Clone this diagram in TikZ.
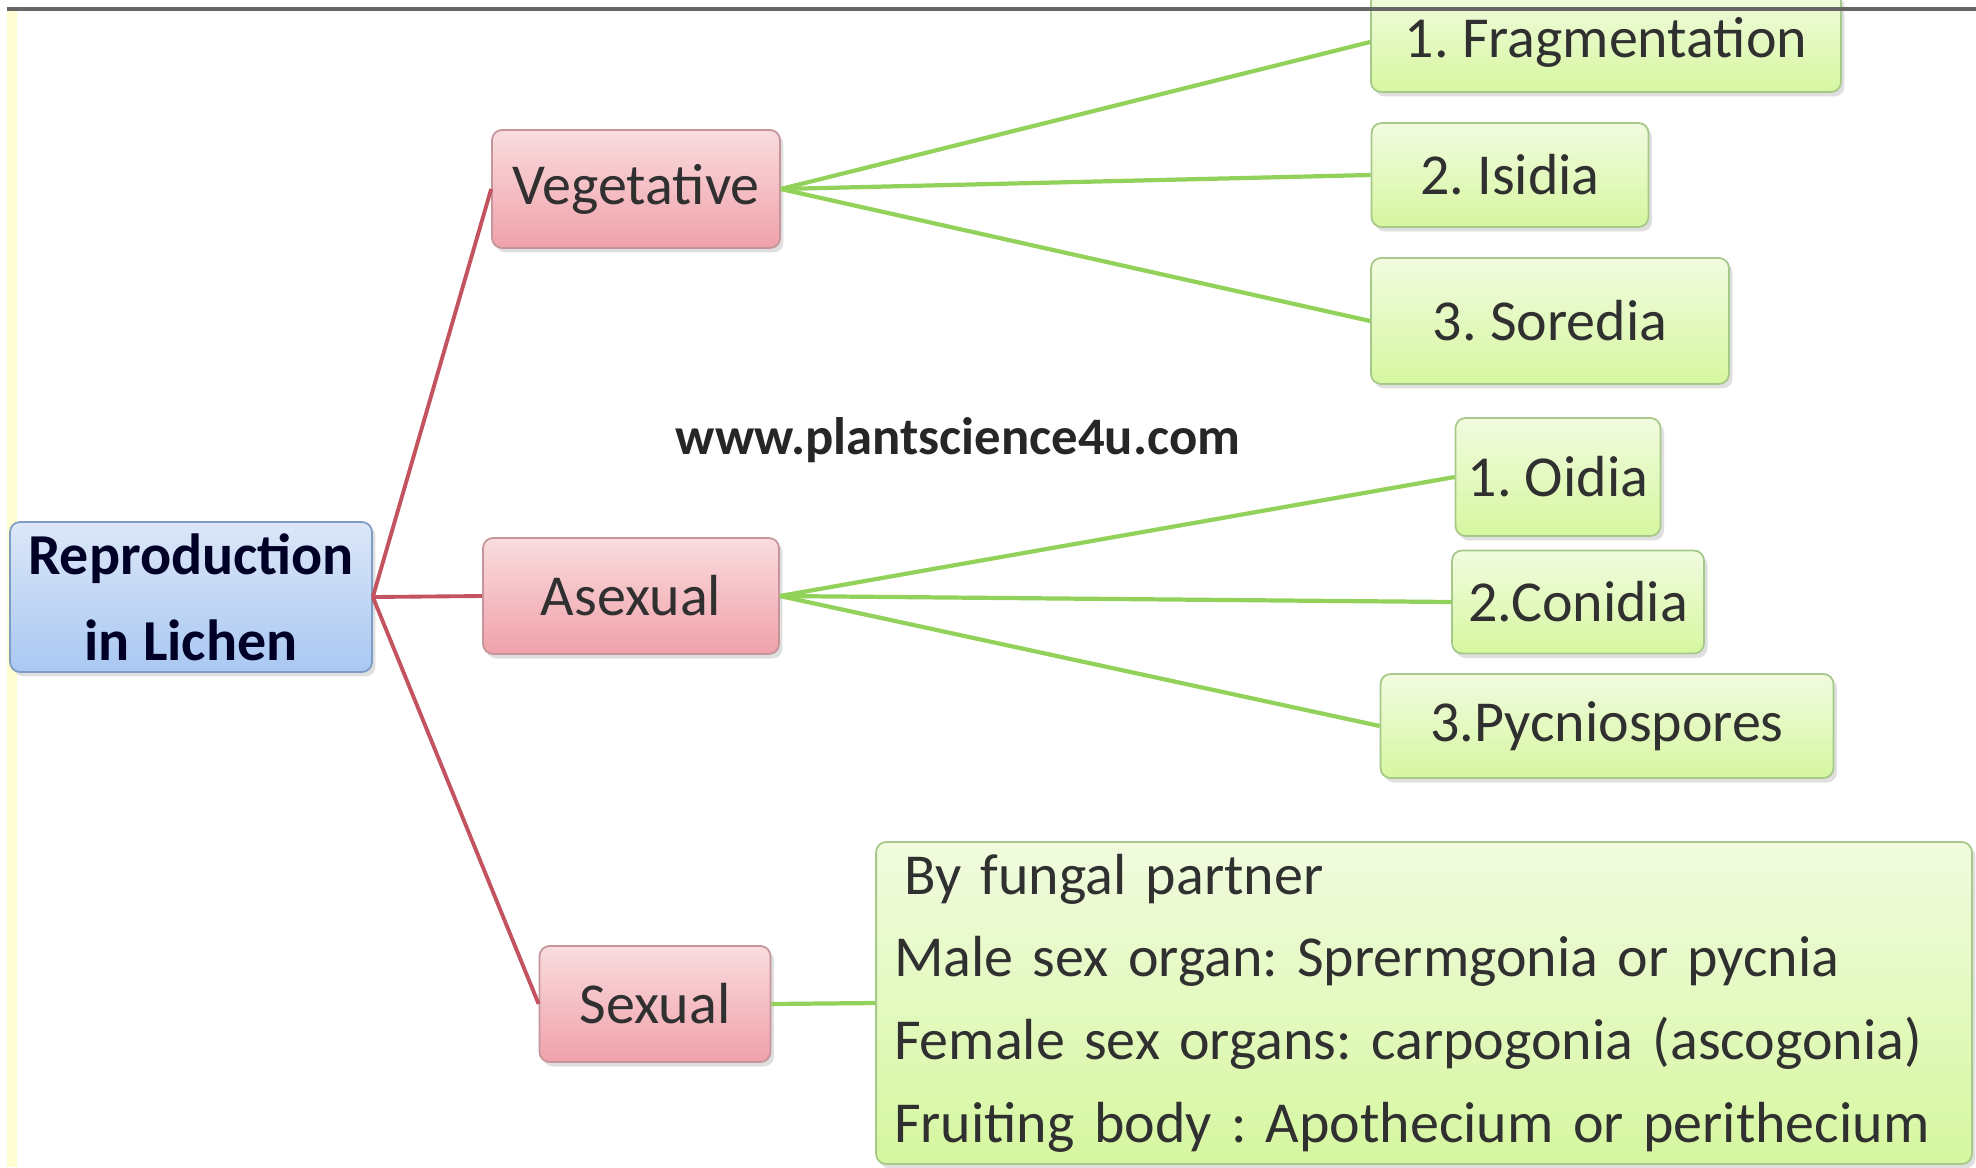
\documentclass[tikz,border=0pt]{standalone}
\usepackage{fontspec}
\setmainfont{Carlito}
\usepackage{xcolor}
\usepackage{tikz}
\usetikzlibrary{shadows}
\definecolor{rootblue}{HTML}{A9C8F2}
\definecolor{rootlight}{HTML}{DCE7F8}
\definecolor{rootline}{HTML}{7F9CC4}
\definecolor{pinkdark}{HTML}{F0A1AA}
\definecolor{pinklight}{HTML}{F9DCDE}
\definecolor{pinkline}{HTML}{C4959A}
\definecolor{leafdark}{HTML}{D6F7A0}
\definecolor{leaflight}{HTML}{F1FBDF}
\definecolor{leafline}{HTML}{A6C98A}
\definecolor{redlink}{HTML}{C2535F}
\definecolor{greenlink}{HTML}{92D15A}
\definecolor{inktext}{HTML}{303030}
\frenchspacing

\begin{document}
\begin{tikzpicture}[x=0.02cm, y=-0.02cm,
  font=\fontsize{33}{48}\selectfont, text=inktext,
  box/.style={draw, rounded corners=0.2cm, line width=1pt, inner sep=2pt,
    drop shadow={shadow xshift=0.7mm, shadow yshift=-0.9mm, opacity=0.25}},
  rootbox/.style={box, draw=rootline, top color=rootlight, bottom color=rootblue,
    align=center, font=\fontsize{33}{49}\selectfont\bfseries, text=black!85!blue},
  kindbox/.style={box, draw=pinkline, top color=pinklight, bottom color=pinkdark},
  leafbox/.style={box, draw=leafline, top color=leaflight, bottom color=leafdark},
  redarm/.style={redlink, line width=2.2pt},
  greenarm/.style={greenlink, line width=2.4pt}]
  \useasboundingbox (0,0) rectangle (1976,1167);
  \fill[white] (0,0) rectangle (1976,1167);
  % left strip of the slide
  \fill[yellow!18] (7,9) rectangle (17,1167);
  % Root
  \node[rootbox, minimum width=7.24cm, minimum height=3cm] (root) at (191,597)
    {Reproduction\\in Lichen};
  % Kinds of reproduction
  \node[kindbox, minimum width=5.76cm, minimum height=2.36cm] (veg) at (636,189) {Vegetative};
  \node[kindbox, minimum width=5.92cm, minimum height=2.32cm] (asex) at (631,596) {Asexual};
  \node[kindbox, minimum width=4.62cm, minimum height=2.32cm] (sex) at (655,1004) {Sexual};
  % Vegetative ways
  \node[leafbox, minimum width=9.4cm, minimum height=2cm] (frag) at (1606,42) {1. Fragmentation};
  \node[leafbox, minimum width=5.54cm, minimum height=2.08cm] (isid) at (1510,175) {2. Isidia};
  \node[leafbox, minimum width=7.16cm, minimum height=2.52cm] (sored) at (1550,321) {3. Soredia};
  % Asexual ways
  \node[leafbox, minimum width=4.1cm, minimum height=2.36cm] (oid) at (1558,477) {1. Oidia};
  \node[leafbox, minimum width=5.04cm, minimum height=2.06cm] (conid) at (1578,602) {2.Conidia};
  \node[leafbox, minimum width=9.06cm, minimum height=2.08cm] (pycn) at (1607,726) {3.Pycniospores};
  % Sexual details
  \node[leafbox, minimum width=21.92cm, minimum height=6.44cm, text width=21.2cm,
    inner xsep=0.36cm, inner ysep=0pt, align=left,
    font=\fontsize{33}{47}\selectfont] (fungal) at (1424,1003)
    {\hspace{0.2cm}By fungal partner\\
     Male sex organ: Sprermgonia or pycnia\\
     Female sex organs: carpogonia (ascogonia)\\
     Fruiting body : Apothecium or perithecium};
  % watermark
  \node[font=\fontsize{30}{34}\selectfont\bfseries, text=black!85] (site) at (958,440)
    {www.plantscience4u.com};
  % links
  \foreach \k in {veg,asex,sex}
    \draw[redarm] (root.east) -- (\k.west);
  \foreach \l in {frag,isid,sored}
    \draw[greenarm] (veg.east) -- (\l.west);
  \foreach \l in {oid,conid,pycn}
    \draw[greenarm] (asex.east) -- (\l.west);
  \draw[greenarm] (sex.east) -- (fungal.west);
  % top edge of the slide
  \draw[black!60, line width=2.5pt] (7,9) -- (1976,9);
\end{tikzpicture}
\end{document}
